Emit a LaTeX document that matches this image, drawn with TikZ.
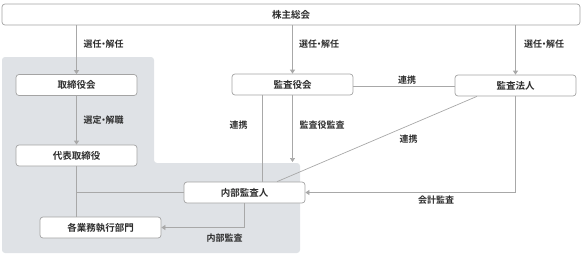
\documentclass[tikz,border=0pt]{standalone}
\usepackage{fontspec}
\setmainfont{Noto Sans CJK JP}[BoldFont={Noto Sans CJK JP Bold}]
\usetikzlibrary{arrows.meta}
\definecolor{regiongray}{HTML}{DFE2E6}
\definecolor{linegray}{HTML}{A8A8A8}
\definecolor{boxline}{HTML}{A4A4A4}
\definecolor{txt}{HTML}{2E2E2E}
\newcommand{\nakaguro}{\kern-2.5pt・\kern-2.5pt}
\tikzset{
  box/.style={draw=boxline, fill=white, line width=0.7pt, rounded corners=3pt,
    minimum width=121pt, minimum height=21pt, inner sep=0pt,
    font=\fontsize{9.5}{10}\selectfont\bfseries, text=txt},
  lbl/.style={inner sep=0pt, font=\fontsize{9}{10}\selectfont\bfseries, text=txt},
  conn/.style={draw=linegray, line width=0.7pt},
  arr/.style={conn, -{Triangle[width=5pt,length=4pt]}}
}
\begin{document}
\begin{tikzpicture}[x=1pt,y=-1pt]
\useasboundingbox (0,0) rectangle (587,257);
\fill[regiongray, rounded corners=3pt] (2,57) -- (154,57) -- (154,163) -- (300,163) -- (300,253) -- (2,253) -- cycle;

\node[box, minimum width=578pt] (top) at (291,14.5) {株主総会};
\node[box] (tori) at (76.5,85) {取締役会};
\node[box] (dai) at (76.5,155.5) {代表取締役};
\node[box] (kaku) at (100.5,227.5) {各業務執行部門};
\node[box] (naibu) at (244.5,192.5) {内部監査人};
\node[box] (kansa) at (292.5,84.5) {監査役会};
\node[box] (hojin) at (515.5,85.5) {監査法人};

\coordinate (c262) at (262,0);
\coordinate (gtop) at (292.5,162);

\draw[arr] (tori.north |- top.south) -- (tori.north);
\draw[arr] (kansa.north |- top.south) -- (kansa.north);
\draw[arr] (hojin.north |- top.south) -- (hojin.north);
\draw[arr] (tori.south) -- (dai.north);
\draw[conn] ([yshift=-2pt]kansa.east) -- ([yshift=-2pt]kansa.east -| hojin.west);
\draw[conn] (c262 |- kansa.south) -- (c262 |- naibu.north);
\draw[arr] (kansa.south) -- (gtop);
\draw[conn] ([xshift=-38.5pt]hojin.south) -- ([xshift=32.5pt]naibu.north);
\draw[arr] (hojin.south) -- (hojin.south |- naibu.east) -- (naibu.east);
\draw[conn] (dai.south) -- (dai.south |- kaku.north);
\draw[conn] (dai.south |- naibu.west) -- (naibu.west);
\draw[arr] (naibu.south) -- (naibu.south |- kaku.east) -- (kaku.east);

\node[lbl] (l1) at (103.5,44) {選任\nakaguro 解任};
\node[lbl] (l2) at (103.5,120) {選定\nakaguro 解職};
\node[lbl] (l3) at (319,44) {選任\nakaguro 解任};
\node[lbl] (l4) at (544,44) {選任\nakaguro 解任};
\node[lbl] (l5) at (407,80) {連携};
\node[lbl] (l6) at (238.5,125) {連携};
\node[lbl] (l7) at (322,125) {監査役監査};
\node[lbl] (l8) at (408.5,139) {連携};
\node[lbl] (l9) at (436,200) {会計監査};
\node[lbl] (l10) at (224.5,238) {内部監査};
\end{tikzpicture}
\end{document}
